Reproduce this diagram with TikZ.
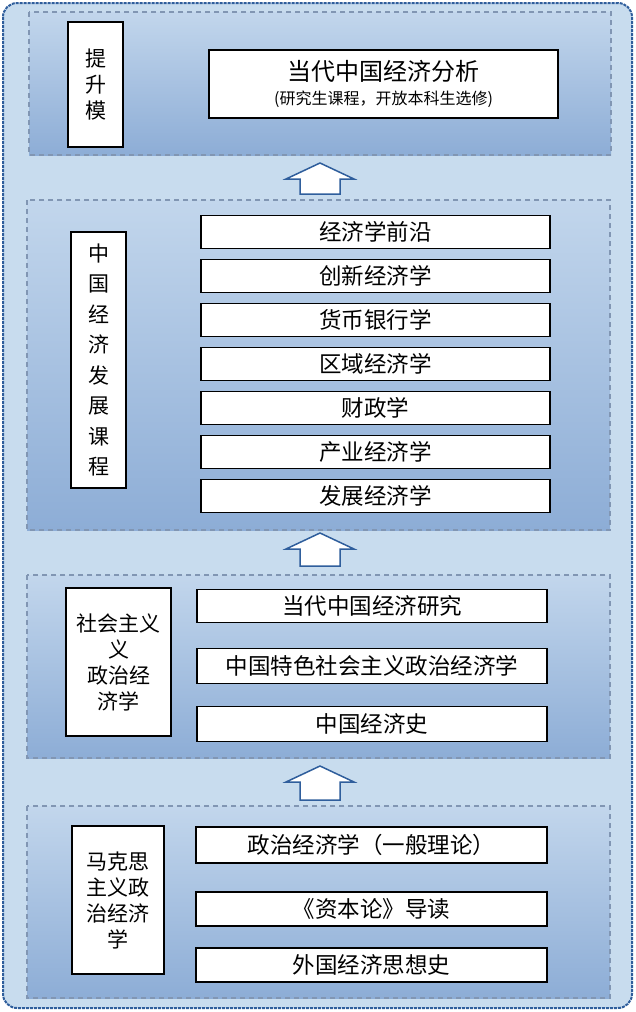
\documentclass[tikz,border=0pt]{standalone}
\usepackage{fontspec}
\setmainfont{Noto Sans CJK SC}
\begin{document}
\begin{tikzpicture}[x=1pt,y=-1pt,
 panel/.style={draw=dashc,line width=1.3pt,dash pattern=on 5pt off 4pt,top color=ptop,bottom color=pbot},
 item/.style={draw=black,line width=1.2pt,fill=white,inner sep=0pt,font=\fontsize{22.5}{23}\selectfont},
 lab/.style={draw=black,line width=1.2pt,fill=white,inner sep=0pt,font=\fontsize{21}{26}\selectfont,align=center},
 uparrow/.style={draw=outc,line width=1.5pt,fill=white}]
\definecolor{bgc}{HTML}{C8DCEE}
\definecolor{ptop}{HTML}{C2D6EC}
\definecolor{pbot}{HTML}{8DADD6}
\definecolor{dashc}{HTML}{8196B3}
\definecolor{outc}{HTML}{2F5E9C}
\useasboundingbox (0,0) rectangle (635,1012);
\draw[draw=outc,fill=bgc,line width=2pt,dash pattern=on 3pt off 1pt,rounded corners=14pt] (3,3) rectangle (632,1008);
\path[panel] (29,12) rectangle (611,155);
\path[panel] (27,200) rectangle (610,530);
\path[panel] (27,575) rectangle (610,758);
\path[panel] (27,806) rectangle (610,998);
\newcommand{\uparr}[2]{\draw[uparrow] (300,#2) -- (300,#1+16) -- (286,#1+16) -- (320,#1) -- (354,#1+16) -- (340,#1+16) -- (340,#2) -- cycle;}
\uparr{163}{194}
\uparr{533}{566}
\uparr{766}{800}
\node[lab,minimum width=55pt,minimum height=125pt] (l1) at (95.5,84.5) {提\\升\\模};
\node[item,minimum width=349pt,minimum height=68pt,align=center] (c1) at (383.5,84) {{\fontsize{24}{25}\selectfont 当代中国经济分析}\\[1pt]{\fontsize{16}{17}\selectfont(研究生课程，开放本科生选修)}};
\node[lab,minimum width=55pt,minimum height=256pt,font=\fontsize{21}{30.5}\selectfont] (l2) at (98.5,360) {中\\国\\经\\济\\发\\展\\课\\程};
\foreach \t [count=\i] in {经济学前沿,创新经济学,货币银行学,区域经济学,财政学,产业经济学,发展经济学}
 \node[item,minimum width=349pt,minimum height=33pt] (b\i) at (375.5,232+44*\i-44) {\t};
\node[lab,minimum width=105pt,minimum height=148pt] (l3) at (118.5,662) {社会主义\\义\\政治经\\济学};
\node[item,minimum width=350pt,minimum height=33pt] (s1) at (372,606) {当代中国经济研究};
\node[item,minimum width=350pt,minimum height=35pt] (s2) at (372,666) {中国特色社会主义政治经济学};
\node[item,minimum width=350pt,minimum height=35pt] (s3) at (372,724) {中国经济史};
\node[lab,minimum width=92pt,minimum height=148pt] (l4) at (118,900) {马克思\\主义政\\治经济\\学};
\node[item,minimum width=351pt,minimum height=36pt] (m1) at (371.5,845) {政治经济学（一般理论）};
\node[item,minimum width=351pt,minimum height=34pt] (m2) at (371.5,909) {《资本论》导读};
\node[item,minimum width=351pt,minimum height=34pt] (m3) at (371.5,965) {外国经济思想史};
\end{tikzpicture}
\end{document}
